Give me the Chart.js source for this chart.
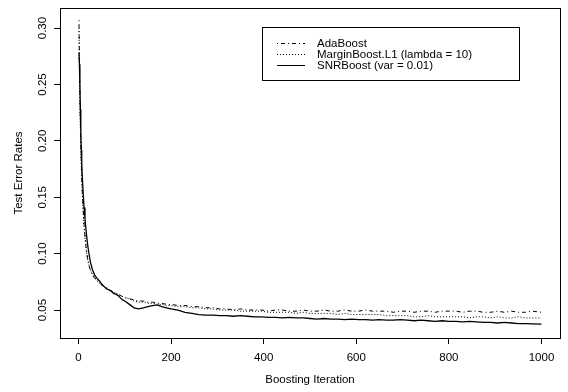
<!DOCTYPE html>
<html>
<head>
<meta charset="utf-8">
<script src="https://cdn.jsdelivr.net/npm/chart.js@4"></script>
<style>
  body { margin: 0; background: #fff; }
</style>
</head>
<body>
<canvas id="chart" width="568" height="392"></canvas>
<script>
const iters = [1, 2, 3, 4, 5, 6, 7, 8, 10, 12, 14, 16, 18, 20, 23, 26, 30,
    35, 40, 45, 50, 55, 60, 65, 70, 75, 80, 85, 90, 95, 100,
    110, 120, 130, 140, 150, 160, 170, 180, 190, 200,
    215, 230, 245, 260, 275, 290, 305, 320, 335, 350, 365, 380, 395, 410, 425, 440, 455, 470, 485, 500,
    515, 530, 545, 560, 575, 590, 605, 620, 635, 650, 665, 680, 695, 710, 725, 740, 755, 770, 785, 800,
    815, 830, 845, 860, 875, 890, 905, 920, 935, 950, 965, 980, 1000];

const adaBoost = [0.307, 0.272, 0.243, 0.218, 0.198, 0.182, 0.168, 0.157, 0.140, 0.126, 0.116, 0.107, 0.100, 0.095, 0.089, 0.085, 0.081,
    0.078, 0.076, 0.074, 0.072, 0.071, 0.069, 0.068, 0.067, 0.066, 0.065, 0.064, 0.063, 0.062, 0.061,
    0.060, 0.059, 0.058, 0.058, 0.057, 0.057, 0.056, 0.056, 0.055, 0.055,
    0.054, 0.054, 0.053, 0.053, 0.052, 0.052, 0.051, 0.051, 0.050, 0.051, 0.050, 0.050, 0.050, 0.049, 0.050, 0.050, 0.049, 0.049, 0.050, 0.049,
    0.049, 0.050, 0.049, 0.049, 0.050, 0.049, 0.049, 0.050, 0.049, 0.049, 0.049, 0.048, 0.049, 0.049, 0.048, 0.049, 0.049, 0.048, 0.049, 0.049,
    0.049, 0.048, 0.049, 0.049, 0.048, 0.048, 0.049, 0.048, 0.049, 0.048, 0.048, 0.049, 0.048];

const marginBoost = [0.300, 0.262, 0.236, 0.212, 0.193, 0.178, 0.165, 0.154, 0.137, 0.124, 0.114, 0.106, 0.099, 0.094, 0.089, 0.085, 0.082,
    0.079, 0.076, 0.074, 0.073, 0.071, 0.070, 0.069, 0.067, 0.066, 0.065, 0.064, 0.063, 0.062, 0.061,
    0.060, 0.058, 0.057, 0.057, 0.056, 0.056, 0.055, 0.055, 0.054, 0.054,
    0.053, 0.053, 0.052, 0.052, 0.051, 0.051, 0.050, 0.050, 0.050, 0.049, 0.049, 0.049, 0.049, 0.048, 0.048, 0.048, 0.048, 0.047, 0.048, 0.047,
    0.047, 0.047, 0.047, 0.046, 0.047, 0.046, 0.046, 0.046, 0.046, 0.046, 0.045, 0.045, 0.045, 0.045, 0.044, 0.044, 0.045, 0.044, 0.044, 0.044,
    0.044, 0.044, 0.043, 0.044, 0.044, 0.043, 0.044, 0.043, 0.043, 0.044, 0.043, 0.043, 0.043];

const snrBoost = [0.278, 0.268, 0.250, 0.228, 0.208, 0.192, 0.180, 0.170, 0.154, 0.141, 0.131, 0.122, 0.114, 0.107, 0.099, 0.092, 0.086,
    0.081, 0.078, 0.076, 0.073, 0.071, 0.069, 0.068, 0.067, 0.065, 0.064, 0.063, 0.061, 0.059, 0.058,
    0.055, 0.052, 0.051, 0.052, 0.053, 0.054, 0.0545, 0.053, 0.052, 0.051,
    0.050, 0.048, 0.047, 0.046, 0.0455, 0.0455, 0.045, 0.045, 0.0445, 0.045, 0.0445, 0.044, 0.044, 0.0435, 0.0435, 0.043, 0.0435, 0.043, 0.043, 0.0425,
    0.042, 0.0425, 0.042, 0.042, 0.0415, 0.042, 0.0415, 0.0415, 0.041, 0.0415, 0.041, 0.041, 0.0415, 0.041, 0.0405, 0.041, 0.0405, 0.040, 0.0405, 0.040,
    0.040, 0.0395, 0.040, 0.0395, 0.039, 0.039, 0.0385, 0.039, 0.0385, 0.038, 0.038, 0.0378, 0.0375];

const xTicks = [0, 200, 400, 600, 800, 1000];
const yTicks = [0.05, 0.10, 0.15, 0.20, 0.25, 0.30];
const seriesNames = ['AdaBoost', 'MarginBoost.L1 (lambda = 10)', 'SNRBoost (var = 0.01)'];

const FONT = 'Liberation Sans, Arial, Helvetica, sans-serif';

function toPoints(values) {
    return iters.map((it, i) => ({ x: it, y: values[i] }));
}

const dashes = [[1, 3, 4, 3], [1, 2], []];
const widths = [1, 1, 1.3];

// Box around the plot region plus the legend in the top right
const boxAndLegend = {
    id: 'boxAndLegend',
    afterDraw(chart) {
        const ctx = chart.ctx;
        const a = chart.chartArea;
        ctx.save();
        ctx.strokeStyle = '#000';
        ctx.lineWidth = 1;
        ctx.setLineDash([]);
        ctx.strokeRect(Math.round(a.left) + 0.5, Math.round(a.top) + 0.5,
            Math.round(a.right - a.left), Math.round(a.bottom - a.top));

        // legend
        const lx = 262, ly = 27, lw = 257, lh = 53;
        ctx.strokeRect(lx + 0.5, ly + 0.5, lw, lh);
        ctx.font = '11.5px ' + FONT;
        ctx.fillStyle = '#000';
        ctx.textAlign = 'left';
        ctx.textBaseline = 'middle';
        seriesNames.forEach((name, i) => {
            const y = 43 + i * 11;
            ctx.beginPath();
            ctx.setLineDash(dashes[i]);
            ctx.lineWidth = 1;
            ctx.moveTo(277, y + 0.5);
            ctx.lineTo(305, y + 0.5);
            ctx.stroke();
            ctx.fillText(name, 317, y + 1);
        });
        ctx.restore();
    }
};

new Chart(document.getElementById('chart'), {
    type: 'line',
    data: {
        datasets: [adaBoost, marginBoost, snrBoost].map((vals, i) => ({
            label: seriesNames[i],
            data: toPoints(vals),
            borderColor: '#000',
            borderWidth: widths[i],
            borderDash: dashes[i],
            pointRadius: 0,
            tension: 0,
            fill: false
        }))
    },
    options: {
        responsive: false,
        animation: false,
        layout: { padding: { top: 8, right: 8, left: 0, bottom: 0 } },
        plugins: {
            legend: { display: false },
            tooltip: { enabled: false }
        },
        scales: {
            x: {
                type: 'linear',
                min: -39.96,
                max: 1039.96,
                afterBuildTicks: axis => { axis.ticks = xTicks.map(v => ({ value: v })); },
                afterFit: axis => { axis.height = 54; },
                grid: { drawOnChartArea: false, tickLength: 6, color: '#000' },
                border: { display: false },
                ticks: {
                    color: '#000',
                    font: { family: FONT, size: 11.5 },
                    padding: 7,
                    maxRotation: 0,
                    callback: v => String(v)
                },
                title: {
                    display: true,
                    text: 'Boosting Iteration',
                    color: '#000',
                    font: { family: FONT, size: 11.5 },
                    padding: { top: 0, bottom: 5 }
                }
            },
            y: {
                min: 0.0252,
                max: 0.3178,
                afterBuildTicks: axis => { axis.ticks = yTicks.map(v => ({ value: v })); },
                afterFit: axis => { axis.width = 60; },
                grid: { drawOnChartArea: false, tickLength: 6, color: '#000' },
                border: { display: false },
                ticks: {
                    color: '#000',
                    font: { family: FONT, size: 11.5 },
                    padding: 0,
                    minRotation: 90,
                    maxRotation: 90,
                    crossAlign: 'center',
                    callback: v => v.toFixed(2)
                },
                title: {
                    display: true,
                    text: 'Test Error Rates',
                    color: '#000',
                    font: { family: FONT, size: 11.5 },
                    padding: { top: 12, bottom: 0 }
                }
            }
        }
    },
    plugins: [boxAndLegend]
});
</script>
</body>
</html>
